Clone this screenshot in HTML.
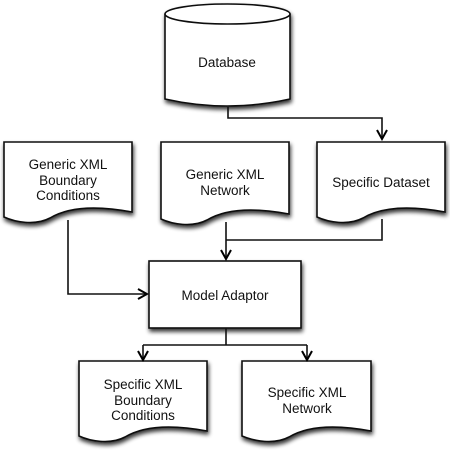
<!DOCTYPE html>
<html><head><style>
body{margin:0;background:#fff;}
svg{display:block;}
text{font-family:"Liberation Sans",Arial,sans-serif;font-size:13.5px;fill:#111;text-anchor:middle;}
</style></head><body>
<svg width="450" height="450" viewBox="0 0 450 450">
<defs>
<filter id="sh" x="-10%" y="-10%" width="130%" height="130%">
<feGaussianBlur in="SourceAlpha" stdDeviation="2"/>
<feOffset dx="1" dy="3" result="b"/>
<feComponentTransfer><feFuncA type="linear" slope="0.8"/></feComponentTransfer>
<feMerge><feMergeNode/><feMergeNode in="SourceGraphic"/></feMerge>
</filter>
<marker id="ar" markerWidth="12" markerHeight="12" refX="10" refY="6" orient="auto" markerUnits="userSpaceOnUse">
<path d="M1,1 L10,6 L1,11" fill="none" stroke="#000" stroke-width="2"/>
</marker>
</defs>
<g stroke="#111" stroke-width="1.6" fill="#fff" filter="url(#sh)">
<path d="M165,14 L165,99 Q227,113 290,99 L290,14"/>
<ellipse cx="227.5" cy="14" rx="62.5" ry="10"/>
<path d="M4,142 H132 V212 C100,206 70,206 50,218 C35,226 15,222 4,217 Z"/>
<path d="M161,142 H289 V214 C257,208 227,208 207,220 C192,228 172,224 161,219 Z"/>
<path d="M317,142 H445 V212 C413,206 383,206 363,218 C348,226 328,222 317,217 Z"/>
<rect x="149" y="261" width="152" height="67"/>
<path d="M79,361 H207 V431 C175,425 145,425 125,437 C110,445 90,441 79,436 Z"/>
<path d="M242,361 H371 V431 C339,425 309,425 289,437 C274,445 254,441 242,436 Z"/>
</g>
<g stroke="#111" stroke-width="1.6" fill="none">
<path d="M228,107 V118 H382 V139" marker-end="url(#ar)"/>
<path d="M226,222 V259" marker-end="url(#ar)"/>
<path d="M382,219 V240 H226"/>
<path d="M68,220 V294 H147" marker-end="url(#ar)"/>
<path d="M226,328 V345"/>
<path d="M143,345 H307"/>
<path d="M143,345 V360" marker-end="url(#ar)"/>
<path d="M307,345 V360" marker-end="url(#ar)"/>
</g>
<text x="227" y="67">Database</text>
<text x="68" y="169">Generic XML</text>
<text x="68" y="185">Boundary</text>
<text x="68" y="200">Conditions</text>
<text x="225" y="179">Generic XML</text>
<text x="225" y="195">Network</text>
<text x="381" y="187">Specific Dataset</text>
<text x="225" y="300">Model Adaptor</text>
<text x="143" y="389">Specific XML</text>
<text x="143" y="405">Boundary</text>
<text x="143" y="420">Conditions</text>
<text x="307" y="397">Specific XML</text>
<text x="307" y="413">Network</text>
</svg>
</body></html>
